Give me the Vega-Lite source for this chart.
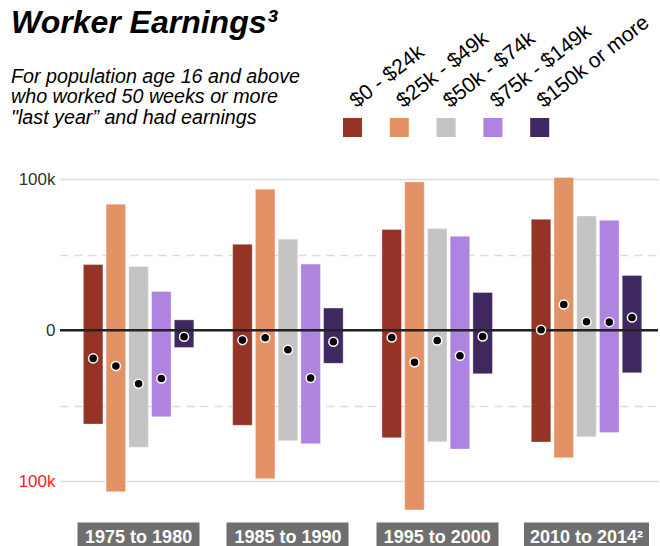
{
  "$schema": "https://vega.github.io/schema/vega-lite/v6.json",
  "autosize": {"type": "pad"},
  "padding": {"left": 11, "top": 6, "right": 2, "bottom": 0},
  "config": {"font": "Liberation Sans", "view": {"stroke": null}},
  "bounds": "flush",
  "spacing": 33,
  "title": {
    "text": "Worker Earnings³",
    "subtitle": ["For population age 16 and above", "who worked 50 weeks or more", "\"last year” and had earnings"],
    "anchor": "start",
    "frame": "group",
    "dx": -49,
    "offset": -117,
    "fontSize": 32,
    "fontStyle": "italic",
    "fontWeight": "bold",
    "color": "black",
    "subtitleFontSize": 19.7,
    "subtitleFontStyle": "italic",
    "subtitleColor": "black",
    "subtitleLineHeight": 20.3,
    "subtitlePadding": 27
  },
  "vconcat": [
    {
      "width": 598,
      "height": 19,
      "data": {
        "values": [
          {"bracket": "$0 - $24k"},
          {"bracket": "$25k - $49k"},
          {"bracket": "$50k - $74k"},
          {"bracket": "$75k - $149k"},
          {"bracket": "$150k or more"}
        ]
      },
      "mark": {"type": "rect"},
      "encoding": {
        "x": {
          "field": "bracket", "type": "nominal",
          "sort": ["$0 - $24k", "$25k - $49k", "$50k - $74k", "$75k - $149k", "$150k or more"],
          "scale": {"range": [283, 489.2], "paddingInner": 0.594, "paddingOuter": 0},
          "axis": {
            "orient": "top", "title": null, "domain": false, "ticks": false,
            "labelAngle": -38, "labelAlign": "left", "labelBaseline": "alphabetic",
            "labelFontSize": 21, "labelPadding": 10, "labelOffset": 4,
            "labelColor": "black", "labelLimit": 300, "labelOverlap": false, "grid": false
          }
        },
        "color": {
          "field": "bracket", "type": "nominal",
          "scale": {
            "domain": ["$0 - $24k", "$25k - $49k", "$50k - $74k", "$75k - $149k", "$150k or more"],
            "range": ["#953327", "#e39266", "#c4c4c4", "#af84e1", "#3f275f"]
          },
          "legend": null
        }
      }
    },
    {
      "width": 598,
      "height": 352,
      "data": {
        "values": [
          {"period": "1975 to 1980", "bracket": "$0 - $24k", "low": -62.2, "high": 43.4, "net": -18.7},
          {"period": "1975 to 1980", "bracket": "$25k - $49k", "low": -106.9, "high": 83.3, "net": -23.8},
          {"period": "1975 to 1980", "bracket": "$50k - $74k", "low": -77.6, "high": 42.1, "net": -35.5},
          {"period": "1975 to 1980", "bracket": "$75k - $149k", "low": -57.3, "high": 25.6, "net": -32},
          {"period": "1975 to 1980", "bracket": "$150k or more", "low": -11.5, "high": 6.8, "net": -4.4},
          {"period": "1985 to 1990", "bracket": "$0 - $24k", "low": -63, "high": 56.9, "net": -6.6},
          {"period": "1985 to 1990", "bracket": "$25k - $49k", "low": -98.3, "high": 93.3, "net": -5.1},
          {"period": "1985 to 1990", "bracket": "$50k - $74k", "low": -73.2, "high": 60.2, "net": -13},
          {"period": "1985 to 1990", "bracket": "$75k - $149k", "low": -75.2, "high": 43.7, "net": -31.7},
          {"period": "1985 to 1990", "bracket": "$150k or more", "low": -22, "high": 14.6, "net": -7.7},
          {"period": "1995 to 2000", "bracket": "$0 - $24k", "low": -71.2, "high": 66.6, "net": -4.9},
          {"period": "1995 to 2000", "bracket": "$25k - $49k", "low": -119, "high": 98.1, "net": -21.2},
          {"period": "1995 to 2000", "bracket": "$50k - $74k", "low": -73.9, "high": 67.2, "net": -6.8},
          {"period": "1995 to 2000", "bracket": "$75k - $149k", "low": -78.7, "high": 62.2, "net": -17},
          {"period": "1995 to 2000", "bracket": "$150k or more", "low": -28.9, "high": 24.9, "net": -4.2},
          {"period": "2010 to 2014²", "bracket": "$0 - $24k", "low": -74.1, "high": 73.4, "net": 0.2},
          {"period": "2010 to 2014²", "bracket": "$25k - $49k", "low": -84.5, "high": 101, "net": 17},
          {"period": "2010 to 2014²", "bracket": "$50k - $74k", "low": -70.6, "high": 75.6, "net": 5.5},
          {"period": "2010 to 2014²", "bracket": "$75k - $149k", "low": -67.7, "high": 72.8, "net": 5.3},
          {"period": "2010 to 2014²", "bracket": "$150k or more", "low": -28.2, "high": 36.2, "net": 8.4}
        ]
      },
      "layer": [
        {
          "mark": {"type": "bar", "stroke": "white", "strokeWidth": 1, "strokeOpacity": 0.35},
          "encoding": {
            "x": {
              "field": "period", "type": "nominal", "sort": null,
              "scale": {"paddingInner": 0.26, "paddingOuter": 0.1326, "align": 0.59},
              "axis": {
                "title": null, "orient": "bottom", "domain": false, "grid": false,
                "ticks": true, "tickSize": 24,
                "tickWidth": {"condition": {"test": "datum.value == '2010 to 2014²'", "value": 125}, "value": 122},
                "tickColor": "#6f6f6f", "labelColor": "white", "labelFontSize": 18,
                "labelFontWeight": "bold", "labelPadding": -4, "labelBaseline": "alphabetic", "labelAngle": 0
              }
            },
            "xOffset": {
              "field": "bracket", "type": "nominal",
              "sort": ["$0 - $24k", "$25k - $49k", "$50k - $74k", "$75k - $149k", "$150k or more"],
              "scale": {"paddingInner": 0.14, "paddingOuter": 0}
            },
            "y": {
              "field": "low", "type": "quantitative",
              "scale": {"domain": [-127, 106], "nice": false, "zero": false},
              "axis": {
                "title": null, "domain": false, "ticks": false,
                "values": [-100, -50, 50, 100, 0],
                "labelExpr": "datum.value == 0 ? '0' : (abs(datum.value) == 100 ? '100k' : '')",
                "labelFontSize": 17,
                "labelColor": {"condition": {"test": "datum.value < 0", "value": "#ff2020"}, "value": "#333333"},
                "labelPadding": 5,
                "gridColor": "#dcdcdc", "gridWidth": 1.5,
                "gridDash": {"condition": {"test": "abs(datum.value) == 50", "value": [8, 6]}, "value": []}
              }
            },
            "y2": {"field": "high"},
            "color": {
              "field": "bracket", "type": "nominal",
              "scale": {
                "domain": ["$0 - $24k", "$25k - $49k", "$50k - $74k", "$75k - $149k", "$150k or more"],
                "range": ["#953327", "#e39266", "#c4c4c4", "#af84e1", "#3f275f"]
              },
              "legend": null
            }
          }
        },
        {
          "data": {"values": [{}]},
          "mark": {"type": "rule", "color": "#222222", "strokeWidth": 2.5},
          "encoding": {"y": {"datum": 0}}
        },
        {
          "mark": {"type": "point", "filled": true, "fill": "black", "stroke": "white", "strokeWidth": 1.5, "size": 82, "opacity": 1},
          "encoding": {
            "x": {"field": "period", "type": "nominal", "sort": null},
            "xOffset": {"field": "bracket", "type": "nominal", "sort": ["$0 - $24k", "$25k - $49k", "$50k - $74k", "$75k - $149k", "$150k or more"]},
            "y": {"field": "net", "type": "quantitative"}
          }
        }
      ]
    }
  ]
}
